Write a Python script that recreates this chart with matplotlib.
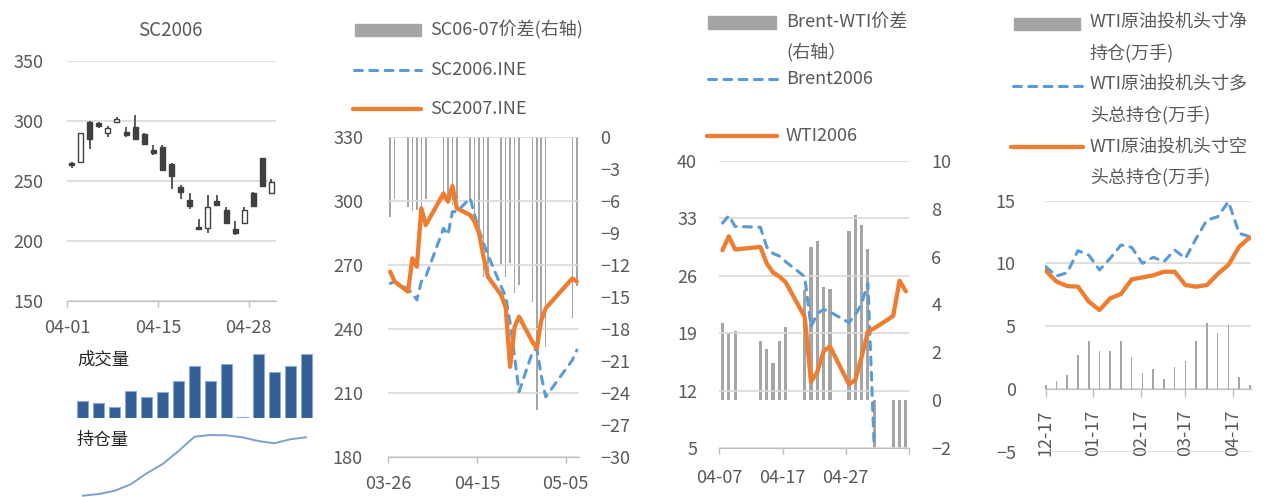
import numpy as np
import pandas as pd
import matplotlib
matplotlib.use('Agg')
import matplotlib.pyplot as plt
import matplotlib.dates as mdates
from matplotlib.patches import Rectangle
from matplotlib.lines import Line2D

plt.rcParams['font.family'] = ['Noto Sans CJK SC', 'DejaVu Sans']

# ---- panel 1: SC2006 daily candles, volume, open interest ----
k_open = [265, 266, 299, 298, 290, 299, 291, 295, 289, 276, 278, 264, 245, 234, 212, 211, 233, 226, 210, 215, 240, 269, 240]
k_high = [266, 290, 300, 299, 296, 303, 295, 305, 290, 280, 280, 265, 247, 240, 218, 238, 238, 228, 217, 228, 241, 269, 252]
k_low = [261, 266, 277, 294, 287, 298, 287, 285, 280, 272, 259, 243, 235, 227, 210, 207, 229, 214, 205, 214, 228, 245, 239]
k_close = [263, 290, 285, 296, 294, 302, 288, 285, 281, 273, 259, 254, 241, 229, 210, 228, 230, 215, 207, 226, 229, 246, 249]
k_tick_idx = [0, 10, 20]
k_tick_labels = ['04-01', '04-15', '04-28']
volume = [5.2, 4.6, 3.4, 8.2, 6.4, 7.7, 11.2, 15.5, 11.2, 16.1, 0.3, 19.2, 13.7, 15.5, 19.2]
open_interest = [4.3, 6.0, 9.3, 15.7, 26.7, 36.0, 49.0, 63.3, 65.0, 64.7, 62.7, 59.0, 56.7, 60.7, 62.7]

# ---- panel 2: SC2006 / SC2007 ----
sc_dates = ['2020-03-26', '2020-03-27', '2020-03-30', '2020-03-31', '2020-04-01', '2020-04-02',
            '2020-04-03', '2020-04-07', '2020-04-08', '2020-04-09', '2020-04-10', '2020-04-13',
            '2020-04-14', '2020-04-15', '2020-04-16', '2020-04-17', '2020-04-20', '2020-04-21',
            '2020-04-22', '2020-04-23', '2020-04-24', '2020-04-27', '2020-04-28', '2020-04-29',
            '2020-04-30', '2020-05-06', '2020-05-07']
sc2006 = [261.4, 262.2, 258.6, 256.7, 253.6, 262.2, 264.5, 287.2, 284.1, 295.0, 295.0, 301.3, 293.4, 286.4,
          280.2, 274.7, 259.8, 255.1, 242.7, 227.0, 210.6, 229.0, 231.0, 218.0, 208.2, 225.4, 230.1]
sc2007 = [266.9, 262.2, 257.5, 273.1, 269.2, 296.6, 288.7, 303.6, 299.7, 307.0, 296.6, 293.4, 290.3, 284.8,
          273.9, 264.5, 255.9, 250.0, 222.3, 241.0, 245.8, 234.0, 230.9, 244.0, 249.7, 263.7, 262.2]
sc_spread = [-7.5, -5.8, -6.6, -6.9, -6.8, -6.6, -5.8, -6.1, -6.0, -6.4, -5.8, -5.9, -8.4, -9.7,
             -13.1, -13.1, -11.9, -13.1, -11.8, -14.6, -13.9, -15.5, -25.6, -18.1, -19.7, -17.0, -14.0]
sc_ticks = ['2020-03-26', '2020-04-15', '2020-05-05']

# ---- panel 3: Brent / WTI ----
bw_dates = ['2020-04-07', '2020-04-08', '2020-04-09', '2020-04-13', '2020-04-14', '2020-04-15',
            '2020-04-16', '2020-04-17', '2020-04-20', '2020-04-21', '2020-04-22', '2020-04-23',
            '2020-04-24', '2020-04-27', '2020-04-28', '2020-04-29', '2020-04-30', '2020-05-01',
            '2020-05-04', '2020-05-05', '2020-05-06']
brent2006 = [32.4, 33.3, 32.0, 31.9, 29.5, 28.7, 28.4, 27.7, 25.9, 19.8, 21.4, 21.9, 21.6, 20.3, 21.2,
             22.6, 25.1, 5.0, np.nan, np.nan, np.nan]
wti2006 = [29.1, 30.8, 29.2, 29.5, 27.5, 26.4, 25.9, 25.2, 21.0, 13.1, 14.3, 16.8, 17.4, 12.8, 13.3,
           16.1, 19.2, 19.6, 21.1, 25.4, 24.1]
bw_spread = [3.21, 2.80, 2.89, 2.48, 2.14, 1.57, 2.48, 3.07, 4.6, 6.41, 6.65, 4.72, 4.65, 7.06, 7.75,
             7.33, 6.32, -2.0, -2.0, -2.0, -2.0]
bw_ticks = ['2020-04-07', '2020-04-17', '2020-04-27', '2020-05-07']
bw_tick_labels = ['04-07', '04-17', '04-27', '']

# ---- panel 4: WTI speculative positions (weekly, 万手) ----
cot_dates = pd.date_range('2019-12-17', periods=20, freq='7D')
cot_net = [0.32, 0.66, 1.12, 2.71, 3.82, 3.03, 3.03, 3.82, 2.55, 1.27, 1.59, 0.80, 1.75, 2.23, 3.82,
           5.26, 4.46, 5.10, 0.96, 0.32]
cot_long = [9.74, 9.00, 9.26, 11.02, 10.67, 9.48, 10.41, 11.47, 11.28, 10.01, 10.49, 10.14, 11.07,
            10.41, 12.00, 13.46, 13.72, 14.92, 12.40, 12.13]
cot_short = [9.42, 8.55, 8.20, 8.15, 6.96, 6.29, 7.22, 7.57, 8.73, 8.89, 9.05, 9.34, 9.34, 8.28,
             8.15, 8.28, 9.16, 9.88, 11.34, 12.08]
cot_ticks = ['2019-12-17', '2020-01-17', '2020-02-17', '2020-03-17', '2020-04-17']

ORANGE = '#ED7D31'
BLUE = '#5B9BD5'
GRAY = '#A5A5A5'
TXT = '#595959'
GRID = '#D9D9D9'
AXC = '#BFBFBF'
CANDLE = '#404040'
FS = 13
DASH = (0, (2.6, 2.4))
BLW = 2.2

W, H = 1281, 497
fig = plt.figure(figsize=(W / 100, H / 100), dpi=100)


def rect(x0, y0, x1, y1):
    return [x0 / W, 1 - y1 / H, (x1 - x0) / W, (y1 - y0) / H]


def style(ax, ypad):
    for s in ('top', 'right', 'left'):
        ax.spines[s].set_visible(False)
    ax.spines['bottom'].set_color(AXC)
    ax.tick_params(axis='y', length=0, pad=ypad, labelsize=FS, labelcolor=TXT)
    ax.tick_params(axis='x', length=4, width=1, color=AXC, pad=9, labelsize=FS, labelcolor=TXT)
    ax.yaxis.grid(True, color=GRID, lw=1.2)
    ax.set_axisbelow(True)


def twin_style(ax, pad):
    for s in ax.spines.values():
        s.set_visible(False)
    ax.tick_params(axis='y', length=0, pad=pad, labelsize=FS, labelcolor=TXT)


def legend_text(x, y, s):
    fig.text(x / W, 1 - y / H, s, fontsize=FS, color=TXT, va='center', ha='left')


def legend_patch(x0, x1, y, h=12):
    fig.add_artist(Rectangle((x0 / W, 1 - (y + h / 2) / H), (x1 - x0) / W, h / H,
                             transform=fig.transFigure, color=GRAY))


def legend_line(x0, x1, y, **kw):
    fig.add_artist(Line2D([x0 / W, x1 / W], [1 - y / H, 1 - y / H], transform=fig.transFigure, **kw))


# panel 1 candles
ax1 = fig.add_axes(rect(67, 61, 276, 301))
style(ax1, 17)
o, hi, lo, c = map(np.array, (k_open, k_high, k_low, k_close))
xi = np.arange(len(o))
ax1.vlines(xi, lo, hi, color=CANDLE, lw=1.2, zorder=2)
ax1.bar(xi, np.abs(c - o), bottom=np.minimum(o, c), width=0.55,
        color=np.where(c >= o, 'white', CANDLE), edgecolor=CANDLE, lw=1.0, zorder=3)
ax1.set_xlim(-0.5, len(o) - 0.5)
ax1.set_ylim(150, 350)
ax1.set_yticks(range(150, 351, 50))
ax1.set_xticks(np.array(k_tick_idx) - 0.5, k_tick_labels)
fig.text(170 / W, 1 - 30 / H, 'SC2006', fontsize=13.5, color=TXT, ha='center', va='center')

axv = fig.add_axes(rect(75, 352, 314, 418))
axv.bar(range(len(volume)), volume, width=0.69, color='#335E94', edgecolor='#8EAADB', lw=0.8)
axv.set_xlim(-0.5, len(volume) - 0.5)
axv.set_ylim(0, 19.8)
axv.axis('off')

axo = fig.add_axes(rect(75, 430, 314, 497))
axo.plot(range(len(open_interest)), open_interest, color='#7F9FCF', lw=1.4)
axo.set_xlim(-0.5, len(open_interest) - 0.5)
axo.set_ylim(3, 70)
axo.axis('off')
fig.text(77 / W, 1 - 360 / H, '成交量', fontsize=12.5, color='#262626', va='center')
fig.text(77 / W, 1 - 440 / H, '持仓量', fontsize=12.5, color='#262626', va='center')

# panel 2
ax2 = fig.add_axes(rect(388, 137, 579, 457))
style(ax2, 18)
x2 = pd.to_datetime(sc_dates) + pd.Timedelta(hours=12)
ax2.plot(x2, sc2006, color=BLUE, lw=BLW, linestyle=DASH, dash_capstyle='round', zorder=3)
ax2.plot(x2, sc2007, color=ORANGE, lw=3.1, solid_capstyle='round', solid_joinstyle='round', zorder=4)
ax2r = ax2.twinx()
twin_style(ax2r, 15)
ax2r.bar(x2, sc_spread, width=0.35, color=GRAY)
ax2r.set_ylim(-30, 0)
ax2r.set_yticks(range(-30, 1, 3))
ax2.set_ylim(180, 330)
ax2.set_yticks(range(180, 331, 30))
ax2.set_xlim(pd.Timestamp('2020-03-26'), pd.Timestamp('2020-05-08'))
ax2.set_xticks(pd.to_datetime(sc_ticks))
ax2.xaxis.set_major_formatter(mdates.DateFormatter('%m-%d'))
ax2.set_zorder(ax2r.get_zorder() + 1)
ax2.patch.set_visible(False)

legend_patch(355, 421, 30)
legend_text(430, 30, 'SC06-07价差(右轴)')
legend_line(354, 421, 70, color=BLUE, lw=BLW, linestyle=DASH, dash_capstyle='round')
legend_text(430, 70, 'SC2006.INE')
legend_line(353, 421, 109, color=ORANGE, lw=3.1, solid_capstyle='round')
legend_text(430, 109, 'SC2007.INE')

# panel 3
ax3 = fig.add_axes(rect(719.3, 160.7, 909, 448.3))
style(ax3, 16)
x3 = pd.to_datetime(bw_dates) + pd.Timedelta(hours=12)
ax3.plot(x3, brent2006, color=BLUE, lw=BLW, linestyle=DASH, dash_capstyle='round', zorder=3)
ax3.plot(x3, wti2006, color=ORANGE, lw=3.1, solid_capstyle='round', solid_joinstyle='round', zorder=4)
ax3r = ax3.twinx()
twin_style(ax3r, 16)
ax3r.bar(x3, bw_spread, width=0.5, color=GRAY)
ax3r.set_ylim(-2, 10)
ax3r.set_yticks(range(-2, 11, 2))
ax3.set_ylim(5, 40)
ax3.set_yticks(range(5, 41, 7))
ax3.set_xlim(pd.Timestamp('2020-04-07'), pd.Timestamp('2020-05-07'))
ax3.set_xticks(pd.to_datetime(bw_ticks), bw_tick_labels)
ax3.tick_params(axis='x', pad=11)
ax3.set_zorder(ax3r.get_zorder() + 1)
ax3.patch.set_visible(False)

legend_patch(708, 776, 22.5)
legend_text(786, 22, 'Brent-WTI价差')
legend_text(786, 52, '(右轴）')
legend_line(708, 777, 79, color=BLUE, lw=BLW, linestyle=DASH, dash_capstyle='round')
legend_text(786, 79, 'Brent2006')
legend_line(707, 777, 136, color=ORANGE, lw=3.1, solid_capstyle='round')
legend_text(786, 136, 'WTI2006')

# panel 4
ax4 = fig.add_axes(rect(1045, 200.7, 1250.7, 451.7))
style(ax4, 21)
ax4.bar(cot_dates, cot_net, width=1.0, color=GRAY, zorder=2)
ax4.plot(cot_dates, cot_long, color=BLUE, lw=BLW, linestyle=DASH, dash_capstyle='round', zorder=3)
ax4.plot(cot_dates, cot_short, color=ORANGE, lw=3.1, solid_capstyle='round', solid_joinstyle='round', zorder=4)
ax4.set_ylim(-5, 15)
ax4.set_yticks(range(-5, 16, 5))
ax4.set_xlim(cot_dates[0] - pd.Timedelta(hours=12), cot_dates[-1] + pd.Timedelta(hours=12))
ax4.set_xticks(pd.to_datetime(cot_ticks))
ax4.xaxis.set_major_formatter(mdates.DateFormatter('%m-%d'))
ax4.spines['bottom'].set_position(('data', 0))
ax4.tick_params(axis='x', length=6, pad=9, labelrotation=90)

legend_patch(1014, 1080, 24)
legend_text(1090, 22, 'WTI原油投机头寸净')
legend_text(1090, 53, '持仓(万手)')
legend_line(1013, 1082, 86, color=BLUE, lw=BLW, linestyle=DASH, dash_capstyle='round')
legend_text(1090, 85, 'WTI原油投机头寸多')
legend_text(1090, 115, '头总持仓(万手)')
legend_line(1011, 1083, 147, color=ORANGE, lw=3.1, solid_capstyle='round')
legend_text(1090, 147, 'WTI原油投机头寸空')
legend_text(1090, 177, '头总持仓(万手)')

fig.savefig('out.png', dpi=100)
